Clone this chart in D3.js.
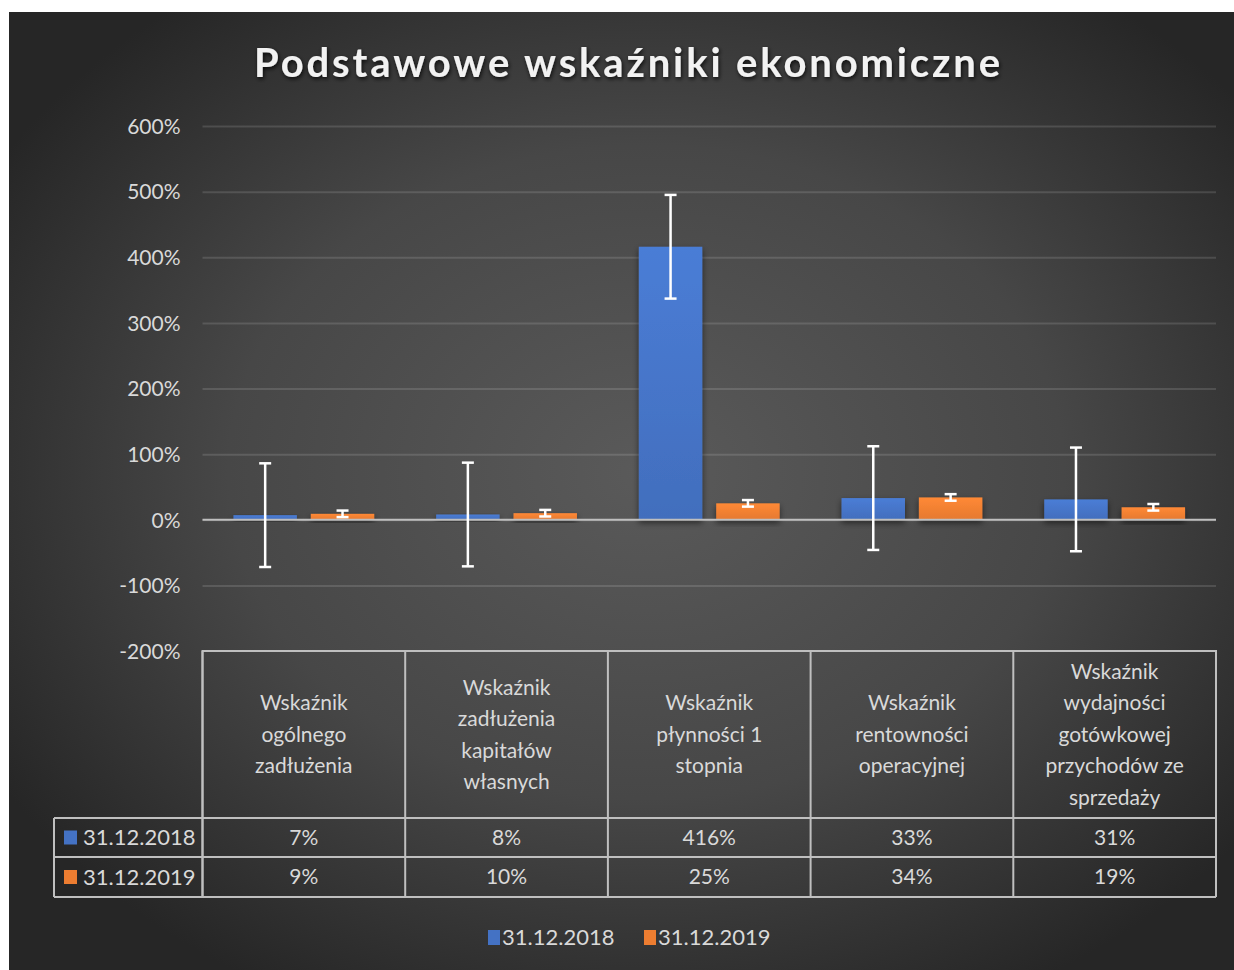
<!DOCTYPE html>
<html>
<head>
<meta charset="utf-8">
<script src="https://cdn.jsdelivr.net/npm/d3@7"></script>
<style>
  html, body { margin: 0; padding: 0; background: #ffffff; }
  svg text { font-family: Lato, "Open Sans", sans-serif; }
</style>
</head>
<body>
<svg id="chart" width="1234" height="970"></svg>
<script>
const categories = [
    "Wskaźnik ogólnego zadłużenia",
    "Wskaźnik zadłużenia kapitałów własnych",
    "Wskaźnik płynności 1 stopnia",
    "Wskaźnik rentowności operacyjnej",
    "Wskaźnik wydajności gotówkowej przychodów ze sprzedaży"
];
const categoryLines = [
    ["Wskaźnik", "ogólnego", "zadłużenia"],
    ["Wskaźnik", "zadłużenia", "kapitałów", "własnych"],
    ["Wskaźnik", "płynności 1", "stopnia"],
    ["Wskaźnik", "rentowności", "operacyjnej"],
    ["Wskaźnik", "wydajności", "gotówkowej", "przychodów ze", "sprzedaży"]
];
const seriesNames = ["31.12.2018", "31.12.2019"];
const values2018 = [0.07, 0.08, 4.16, 0.33, 0.31];
const values2019 = [0.09, 0.10, 0.25, 0.34, 0.19];
const errors2018 = [0.79, 0.79, 0.79, 0.79, 0.79];
const errors2019 = [0.05, 0.05, 0.05, 0.05, 0.05];
const yTicks = [-2, -1, 0, 1, 2, 3, 4, 5, 6];
const seriesColors = ["#4472c4", "#ed7d31"];

const series = [
    { name: seriesNames[0], values: values2018, errors: errors2018, color: seriesColors[0] },
    { name: seriesNames[1], values: values2019, errors: errors2019, color: seriesColors[1] }
];

// Excel style percent: plain hyphen for negatives
const pct = (d) => Math.round(d * 100) + "%";

const svg = d3.select("#chart");
const defs = svg.append("defs");

/* BACKGROUND
 */
const bg = defs.append("radialGradient")
      .attr("id", "bg-grad")
      .attr("cx", "52%").attr("cy", "48%").attr("r", "62%");
bg.append("stop").attr("offset", "0%").attr("stop-color", "#5a5a5a");
bg.append("stop").attr("offset", "55%").attr("stop-color", "#474747");
bg.append("stop").attr("offset", "100%").attr("stop-color", "#262626");

svg.append("rect")
    .attr("x", 9).attr("y", 12)
    .attr("width", 1225).attr("height", 958)
    .attr("fill", "url(#bg-grad)");

const shadow = defs.append("filter").attr("id", "bar-shadow")
      .attr("x", "-20%").attr("y", "-20%").attr("width", "140%").attr("height", "160%");
shadow.append("feDropShadow")
    .attr("dx", 0).attr("dy", 3).attr("stdDeviation", 3)
    .attr("flood-color", "#000").attr("flood-opacity", 0.55);

const titleShadow = defs.append("filter").attr("id", "title-shadow");
titleShadow.append("feDropShadow")
    .attr("dx", 1).attr("dy", 2).attr("stdDeviation", 2)
    .attr("flood-color", "#000").attr("flood-opacity", 0.8);

series.forEach(function(s, i) {
    const g = defs.append("linearGradient")
	  .attr("id", "bar-grad-" + i)
	  .attr("x1", 0).attr("y1", 0).attr("x2", 0).attr("y2", 1);
    g.append("stop").attr("offset", "0%").attr("stop-color", d3.color(s.color).brighter(0.25));
    g.append("stop").attr("offset", "100%").attr("stop-color", d3.color(s.color).darker(0.1));
});

/* TITLE
 */
svg.append("text")
    .attr("x", 627).attr("y", 77)
    .attr("text-anchor", "middle")
    .attr("font-size", 40)
    .attr("font-weight", "bold")
    .attr("fill", "#f2f2f2")
    .attr("textLength", 746)
    .attr("lengthAdjust", "spacing")
    .attr("filter", "url(#title-shadow)")
    .text("Podstawowe wskaźniki ekonomiczne");

/* SCALES
 */
const left = 202.5, right = 1216;
const y = d3.scaleLinear().domain([-2, 6]).range([651, 126]);
const x = d3.scaleBand().domain(categories).range([left, right]).padding(0);
const xs = d3.scaleBand().domain(seriesNames).range([0, x.bandwidth()])
      .paddingInner(0.18).paddingOuter(0.4);

/* GRID + Y AXIS
 */
const yAxis = svg.append("g")
      .attr("transform", `translate(${left},0)`)
      .call(d3.axisLeft(y).tickValues(yTicks)
	    .tickSize(-(right - left))
	    .tickFormat(pct));
yAxis.select(".domain").remove();
yAxis.selectAll(".tick line")
    .attr("stroke", "#ffffff")
    .attr("stroke-opacity", (d) => d == -2 ? 0 : 0.13)
    .attr("stroke-width", 2);
yAxis.selectAll(".tick text")
    .attr("x", -22)
    .attr("dy", "0.35em")
    .attr("fill", "#d9d9d9")
    .attr("font-size", 21)
    .attr("font-family", "Lato, 'Open Sans', sans-serif");

/* BARS
 */
const groups = svg.selectAll(".series")
      .data(series)
      .enter().append("g")
      .attr("class", "series");

groups.selectAll("rect")
    .data((s, i) => s.values.map((v, j) => ({ v: v, cat: categories[j], s: s, i: i })))
    .enter().append("rect")
    .attr("x", (d) => x(d.cat) + xs(d.s.name))
    .attr("width", xs.bandwidth())
    .attr("y", (d) => y(Math.max(0, d.v)))
    .attr("height", (d) => Math.abs(y(d.v) - y(0)))
    .attr("fill", (d) => `url(#bar-grad-${d.i})`)
    .attr("filter", "url(#bar-shadow)");

/* ZERO LINE
 */
svg.append("line")
    .attr("x1", left).attr("x2", right)
    .attr("y1", y(0)).attr("y2", y(0))
    .attr("stroke", "#bfbfbf").attr("stroke-width", 2);

/* ERROR BARS
 */
const errData = [];
series.forEach(function(s) {
    s.values.forEach(function(v, j) {
	errData.push({ v: v, e: s.errors[j], cx: x(categories[j]) + xs(s.name) + xs.bandwidth() / 2 });
    });
});
const err = svg.append("g").attr("class", "errors")
      .attr("stroke", "#ffffff").attr("stroke-width", 2.5);
const errG = err.selectAll("g").data(errData).enter().append("g");
errG.append("line")
    .attr("x1", (d) => d.cx).attr("x2", (d) => d.cx)
    .attr("y1", (d) => y(d.v + d.e)).attr("y2", (d) => y(d.v - d.e));
errG.append("line")
    .attr("x1", (d) => d.cx - 6).attr("x2", (d) => d.cx + 6)
    .attr("y1", (d) => y(d.v + d.e)).attr("y2", (d) => y(d.v + d.e));
errG.append("line")
    .attr("x1", (d) => d.cx - 6).attr("x2", (d) => d.cx + 6)
    .attr("y1", (d) => y(d.v - d.e)).attr("y2", (d) => y(d.v - d.e));

/* DATA TABLE
 */
const tableLeft = 54, headTop = y(-2), headBottom = 818, row1Bottom = 857, row2Bottom = 897;
const rowBottoms = [row1Bottom, row2Bottom];
const table = svg.append("g").attr("class", "data-table");
const lineStyle = (sel) => sel.attr("stroke", "#bfbfbf").attr("stroke-width", 2).attr("fill", "none");

// outer header frame and column separators
table.append("path").call(lineStyle)
    .attr("d", `M${left},${row2Bottom}V${headTop}H${right}V${row2Bottom}`);
categories.forEach(function(c) {
    table.append("line").call(lineStyle)
	.attr("x1", x(c)).attr("x2", x(c))
	.attr("y1", headTop).attr("y2", row2Bottom);
});
table.append("line").call(lineStyle)
    .attr("x1", tableLeft).attr("x2", right).attr("y1", headBottom).attr("y2", headBottom);
table.append("line").call(lineStyle)
    .attr("x1", tableLeft).attr("x2", right).attr("y1", row1Bottom).attr("y2", row1Bottom);
table.append("line").call(lineStyle)
    .attr("x1", tableLeft).attr("x2", right).attr("y1", row2Bottom).attr("y2", row2Bottom);
table.append("line").call(lineStyle)
    .attr("x1", tableLeft).attr("x2", tableLeft).attr("y1", headBottom).attr("y2", row2Bottom);

// category headers
const headMid = (headTop + headBottom) / 2;
const lineH = 31.5;
categories.forEach(function(c, j) {
    const lines = categoryLines[j];
    const t = table.append("text")
	  .attr("text-anchor", "middle")
	  .attr("font-size", 21)
	  .attr("fill", "#d9d9d9");
    lines.forEach(function(l, k) {
	t.append("tspan")
	    .attr("x", x(c) + x.bandwidth() / 2)
	    .attr("y", headMid + (k - (lines.length - 1) / 2) * lineH)
	    .attr("dy", "0.35em")
	    .text(l);
    });
});

// rows
series.forEach(function(s, i) {
    const top = i == 0 ? headBottom : rowBottoms[0];
    const mid = (top + rowBottoms[i]) / 2;
    table.append("rect")
	.attr("x", 64).attr("y", mid - 7)
	.attr("width", 13).attr("height", 14)
	.attr("fill", s.color);
    table.append("text")
	.attr("x", 83).attr("y", mid).attr("dy", "0.35em")
	.attr("font-size", 22).attr("fill", "#d9d9d9")
	.text(s.name);
    s.values.forEach(function(v, j) {
	table.append("text")
	    .attr("x", x(categories[j]) + x.bandwidth() / 2)
	    .attr("y", mid).attr("dy", "0.35em")
	    .attr("text-anchor", "middle")
	    .attr("font-size", 21).attr("fill", "#d9d9d9")
	    .text(pct(v));
    });
});

/* LEGEND
 */
const legend = svg.append("g").attr("class", "legend");
const legendX = [488, 644];
series.forEach(function(s, i) {
    legend.append("rect")
	.attr("x", legendX[i]).attr("y", 930)
	.attr("width", 12).attr("height", 15)
	.attr("fill", s.color);
    legend.append("text")
	.attr("x", legendX[i] + 14).attr("y", 937.5).attr("dy", "0.35em")
	.attr("font-size", 22).attr("fill", "#d9d9d9")
	.text(s.name);
});
</script>
</body>
</html>
